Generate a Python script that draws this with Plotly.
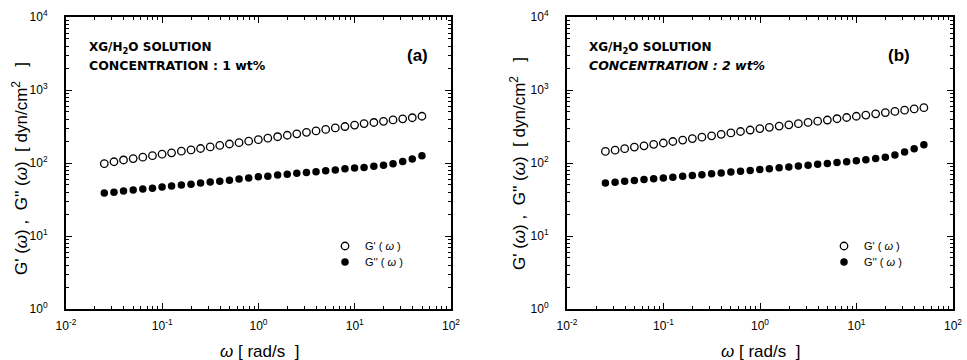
import plotly.graph_objects as go

# frequency (rad/s)
omega = [0.025, 0.0315, 0.0396, 0.0499, 0.0628, 0.0791, 0.0996, 0.125, 0.158, 0.199,
         0.25, 0.315, 0.396, 0.499, 0.628, 0.791, 0.996, 1.25, 1.58, 1.99,
         2.5, 3.15, 3.96, 4.99, 6.28, 7.91, 9.96, 12.5, 15.8, 19.9,
         25.0, 31.5, 39.6, 49.9]

# panel (a): 1 wt%
g1_a = [98, 104, 110, 115, 120, 126, 132, 138, 145, 151, 158, 166, 174, 182, 190, 199, 209,
        219, 229, 240, 251, 263, 275, 288, 302, 316, 331, 347, 359, 372, 389, 403, 417, 437]
g2_a = [38.9, 39.8, 41.2, 42.7, 44.2, 45.2, 46.8, 48.4, 50.1, 51.3, 53.1, 55.0, 56.2, 58.2,
        60.3, 62.4, 64.6, 66.1, 68.4, 70.0, 72.4, 74.1, 75.9, 78.5, 80.4, 83.2, 85.1, 87.1,
        90.2, 93.3, 97.7, 104.7, 113.5, 125.9]

# panel (b): 2 wt%
g1_b = [144, 150, 157, 165, 172, 180, 188, 197, 206, 216, 226, 236, 247, 258, 270, 283, 296,
        308, 320, 333, 346, 360, 374, 388, 404, 420, 437, 454, 471, 490, 509, 530, 551, 573]
g2_b = [53.1, 54.6, 56.1, 57.5, 59.2, 60.7, 62.4, 64.0, 65.8, 67.5, 69.3, 71.1, 73.1, 75.0,
        77.1, 79.1, 81.3, 83.6, 85.9, 88.3, 90.8, 93.3, 95.9, 98.6, 101.4, 104.2, 107.2, 110.9,
        114.8, 120.2, 128.8, 141.3, 156.7, 177.8]

x_tickvals = [0.01, 0.1, 1, 10, 100]
x_ticktext = ["10<sup>-2</sup>", "10<sup>-1</sup>", "10<sup>0</sup>", "10<sup>1</sup>", "10<sup>2</sup>"]
y_tickvals = [1, 10, 100, 1000, 10000]
y_ticktext = ["10<sup>0</sup>", "10<sup>1</sup>", "10<sup>2</sup>", "10<sup>3</sup>", "10<sup>4</sup>"]

FONT = "Liberation Sans, Arial, sans-serif"
BOLDFONT = "DejaVu Sans, Liberation Sans, sans-serif"
W, H = 967, 360
NB = "\u00a0"

fig = go.Figure()

def add_panel(g1, g2, xa, ya, leg1, leg2):
    fig.add_trace(go.Scatter(x=omega, y=g1, mode="markers", name="G' ( <i>ω</i> )",
                             xaxis=xa, yaxis=ya, legend=leg1,
                             marker=dict(symbol="circle-open", size=7.5, color="black",
                                         line=dict(width=1.3, color="black"))))
    fig.add_trace(go.Scatter(x=omega, y=g2, mode="markers", name="G'' ( <i>ω</i> )",
                             xaxis=xa, yaxis=ya, legend=leg2,
                             marker=dict(symbol="circle", size=7.5, color="black")))

add_panel(g1_a, g2_a, "x", "y", "legend", "legend2")
add_panel(g1_b, g2_b, "x2", "y2", "legend3", "legend4")

minor_x = [m * 10 ** e for e in range(-2, 2) for m in range(2, 10)]
minor_y = [m * 10 ** e for e in range(0, 4) for m in range(2, 10)]

def common(rng, tv, tt, minor_vals):
    return dict(type="log", range=rng, tickmode="array", tickvals=tv, ticktext=tt,
                ticks="inside", ticklen=6, tickwidth=1.2, tickcolor="black",
                minor=dict(tickmode="array", tickvals=minor_vals, ticks="inside", ticklen=3,
                           tickwidth=1, tickcolor="black"),
                showline=True, linewidth=2, linecolor="black", mirror="allticks",
                showgrid=False, zeroline=False, automargin=False,
                tickfont=dict(family=FONT, size=12, color="black"))

def xaxis(domain, anchor):
    d = common([-2, 2], x_tickvals, x_ticktext, minor_x)
    d.update(domain=domain, anchor=anchor, ticklabelstandoff=5)
    return d

def yaxis(domain, anchor):
    d = common([0, 4], y_tickvals, y_ticktext, minor_y)
    d.update(domain=domain, anchor=anchor, ticklabelstandoff=14)
    return d

ydom = [1 - 309 / H, 1 - 17 / H]
xdom_a = [66 / W, 451 / W]
xdom_b = [567 / W, 953 / W]

legend_style = dict(bgcolor="rgba(0,0,0,0)", borderwidth=0, itemwidth=30,
                    font=dict(family=FONT, size=11, color="black"),
                    yanchor="middle", xanchor="left")

fig.update_layout(
    width=W, height=H, margin=dict(l=0, r=0, t=0, b=0, pad=0),
    paper_bgcolor="white", plot_bgcolor="white",
    xaxis=xaxis(xdom_a, "y"), yaxis=yaxis(ydom, "x"),
    xaxis2=xaxis(xdom_b, "y2"), yaxis2=yaxis(ydom, "x2"),
    showlegend=True,
    legend=dict(x=325 / W, y=1 - 246 / H, **legend_style),
    legend2=dict(x=325 / W, y=1 - 262 / H, **legend_style),
    legend3=dict(x=824 / W, y=1 - 246 / H, **legend_style),
    legend4=dict(x=824 / W, y=1 - 262 / H, **legend_style),
)

def txt(x, y, text, size=12, family=BOLDFONT, bold=True, italic=False, anchor="left",
        angle=0):
    if italic:
        text = "<i>" + text + "</i>"
    if bold:
        text = "<b>" + text + "</b>"
    fig.add_annotation(x=x / W, y=1 - y / H, xref="paper", yref="paper",
                       text=text, showarrow=False, xanchor=anchor, textangle=angle,
                       yanchor="middle", font=dict(family=family, size=size, color="black"))

# in-plot labels
txt(87, 48, "XG/H<sub>2</sub>O SOLUTION", size=12)
txt(87, 65, "CONCENTRATION : 1 wt%", size=12.5)
txt(430, 55, "(a)", size=17, family=FONT, anchor="right")
txt(587, 48, "XG/H<sub>2</sub>O SOLUTION", size=12)
txt(587, 65, "CONCENTRATION : 2 wt%", size=12.5, italic=True)
txt(912, 55, "(b)", size=17, family=FONT, anchor="right")

# axis titles
ytitle = ("G'" + NB + "(<i>ω</i>)" + NB + "," + NB + NB + "G''" + NB + "(<i>ω</i>)" + NB + NB
          + "[" + NB + "dyn/cm<sup>2</sup>" + NB * 3 + "]")
xtitle = "<i>ω</i>" + NB + "[" + NB + "rad/s" + NB + NB + "]"
txt(20, 169, ytitle, size=17, family=FONT, bold=False, anchor="center", angle=-90)
txt(518, 164, ytitle, size=17, family=FONT, bold=False, anchor="center", angle=-90)
txt(259, 351, xtitle, size=17, family=FONT, bold=False, anchor="center")
txt(760, 351, xtitle, size=17, family=FONT, bold=False, anchor="center")

fig.write_html("out.html", config={"displayModeBar": False},
               post_script="document.body.style.margin='0';")
